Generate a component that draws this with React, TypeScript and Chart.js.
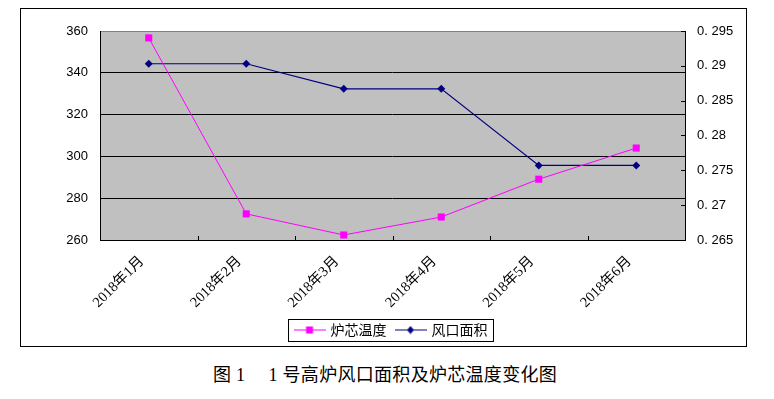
import React, { useEffect, useRef } from "react";
import { Chart, registerables } from "chart.js";

Chart.register(...registerables);

const months = ["2018年1月", "2018年2月", "2018年3月", "2018年4月", "2018年5月", "2018年6月"];
const coreTemp = [356.7, 272.5, 262.4, 271.0, 289.1, 304.0];
const tuyereArea = [0.2903, 0.2903, 0.2867, 0.2867, 0.2757, 0.2757];
const seriesNames = ["炉芯温度", "风口面积"];
const leftAxis = { min: 260, max: 360, step: 20 };
const rightAxis = { min: 0.265, max: 0.295, step: 0.005 };
const caption = "图 1\u3000 1 号高炉风口面积及炉芯温度变化图";

const TEMP_COLOR = "#FF00FF";
const AREA_COLOR = "#000080";
const PLOT_BG = "#C0C0C0";

function fmtRight(v: number): string {
  const s = String(parseFloat(Number(v).toFixed(3)));
  return s.replace("0.", "0. ");
}

function makeSymbol(color: string, kind: "rect" | "diamond"): HTMLCanvasElement {
  const c = document.createElement("canvas");
  c.width = 32;
  c.height = 9;
  const g = c.getContext("2d")!;
  g.strokeStyle = color;
  g.lineWidth = 1;
  g.beginPath();
  g.moveTo(0, 4.5);
  g.lineTo(32, 4.5);
  g.stroke();
  g.fillStyle = color;
  if (kind === "rect") {
    g.fillRect(12.5, 1, 7, 7);
  } else {
    g.beginPath();
    g.moveTo(16, 0.5);
    g.lineTo(19.5, 4.5);
    g.lineTo(16, 8.5);
    g.lineTo(12.5, 4.5);
    g.closePath();
    g.fill();
  }
  return c;
}

const decorPlugin = {
  id: "decor",
  afterLayout(chart: any) {
    const lg = chart.legend;
    if (lg) {
      lg.left += 8;
      lg.right += 8;
    }
  },
  beforeDraw(chart: any) {
    const { ctx, chartArea } = chart;
    const { left, right, top, bottom } = chartArea;
    ctx.save();
    ctx.fillStyle = PLOT_BG;
    ctx.fillRect(left, top, right - left, bottom - top);
    ctx.restore();
  },
  beforeDatasetsDraw(chart: any) {
    const { ctx, chartArea, scales } = chart;
    const { left, right, top, bottom } = chartArea;
    ctx.save();
    ctx.lineWidth = 1;
    ctx.strokeStyle = "#808080";
    ctx.beginPath();
    ctx.moveTo(left, top + 0.5);
    ctx.lineTo(right + 1, top + 0.5);
    ctx.stroke();
    ctx.strokeStyle = "#000000";
    ctx.beginPath();
    ctx.moveTo(left + 0.5, top);
    ctx.lineTo(left + 0.5, bottom + 1);
    ctx.moveTo(left, bottom + 0.5);
    ctx.lineTo(right + 1, bottom + 0.5);
    ctx.moveTo(right + 0.5, top);
    ctx.lineTo(right + 0.5, bottom + 1);
    ctx.stroke();
    const y1 = scales.y1;
    ctx.beginPath();
    y1.ticks.forEach((t: any) => {
      const py = Math.round(y1.getPixelForValue(t.value)) + 0.5;
      ctx.moveTo(right - 4, py);
      ctx.lineTo(right + 0.5, py);
    });
    const n = months.length;
    for (let i = 1; i < n; i++) {
      const px = Math.round(left + (i * (right - left)) / n) + 0.5;
      ctx.moveTo(px, bottom - 4);
      ctx.lineTo(px, bottom + 0.5);
    }
    ctx.stroke();
    ctx.restore();
  },
  afterDraw(chart: any) {
    const lg = chart.legend;
    if (!lg || !lg.legendHitBoxes || !lg.legendHitBoxes.length) return;
    const hb = lg.legendHitBoxes;
    const first = hb[0];
    const last = hb[hb.length - 1];
    const x0 = Math.round(first.left - 8) + 0.5;
    const x1 = Math.round(last.left + last.width + 6) + 0.5;
    const y0 = Math.round(first.top - 4) + 0.5;
    const y1 = Math.round(first.top + first.height + 4) + 0.5;
    const { ctx } = chart;
    ctx.save();
    ctx.strokeStyle = "#000000";
    ctx.lineWidth = 1;
    ctx.strokeRect(x0, y0, x1 - x0, y1 - y0);
    ctx.restore();
  },
};

export default function App() {
  const canvasRef = useRef<HTMLCanvasElement | null>(null);

  useEffect(() => {
    const canvas = canvasRef.current;
    if (!canvas) return;
    const symbols = [makeSymbol(TEMP_COLOR, "rect"), makeSymbol(AREA_COLOR, "diamond")];
    const chart = new Chart(canvas, {
      type: "line",
      data: {
        labels: months,
        datasets: [
          {
            label: seriesNames[0],
            data: coreTemp,
            yAxisID: "y",
            borderColor: TEMP_COLOR,
            backgroundColor: TEMP_COLOR,
            borderWidth: 1,
            pointStyle: "rect",
            pointRadius: 5,
            pointBorderWidth: 0,
            tension: 0,
          },
          {
            label: seriesNames[1],
            data: tuyereArea,
            yAxisID: "y1",
            borderColor: AREA_COLOR,
            backgroundColor: AREA_COLOR,
            borderWidth: 1.2,
            pointStyle: "rectRot",
            pointRadius: 4,
            pointBorderWidth: 0,
            tension: 0,
          },
        ],
      },
      options: {
        responsive: false,
        animation: false,
        events: [],
        layout: { padding: { top: 23, left: 0, right: 0, bottom: 0 } },
        plugins: {
          tooltip: { enabled: false },
          title: { display: false },
          legend: {
            display: true,
            position: "bottom",
            labels: {
              usePointStyle: true,
              pointStyleWidth: 28,
              padding: 10,
              color: "#000000",
              font: { family: "'Noto Sans CJK SC', sans-serif", size: 14 },
              generateLabels: (ch: any) =>
                ch.data.datasets.map((ds: any, i: number) => ({
                  text: ds.label,
                  pointStyle: symbols[i],
                  fillStyle: ds.borderColor,
                  strokeStyle: ds.borderColor,
                  lineWidth: 0,
                  hidden: false,
                  datasetIndex: i,
                  fontColor: "#000000",
                })),
            },
          },
        },
        scales: {
          x: {
            type: "category",
            offset: true,
            grid: { display: false, drawTicks: false },
            border: { display: false },
            ticks: {
              autoSkip: false,
              minRotation: 45,
              maxRotation: 45,
              labelOffset: -7,
              padding: 13,
              color: "#000000",
              font: { family: "'Liberation Serif', 'Noto Sans CJK SC', serif", size: 14.5 },
            },
            afterFit: (s: any) => {
              s.height = 73;
            },
          },
          y: {
            type: "linear",
            position: "left",
            min: leftAxis.min,
            max: leftAxis.max,
            grid: {
              drawTicks: false,
              lineWidth: 1,
              color: (c: any) =>
                c.tick && (c.tick.value === leftAxis.min || c.tick.value === leftAxis.max)
                  ? "rgba(0,0,0,0)"
                  : "#000000",
            },
            border: { display: false },
            ticks: {
              stepSize: leftAxis.step,
              padding: 12,
              color: "#000000",
              font: { family: "'Liberation Sans', Arial, sans-serif", size: 13 },
            },
            afterFit: (s: any) => {
              s.width = 80;
            },
          },
          y1: {
            type: "linear",
            position: "right",
            min: rightAxis.min,
            max: rightAxis.max,
            grid: { display: false, drawOnChartArea: false, drawTicks: false },
            border: { display: false },
            ticks: {
              stepSize: rightAxis.step,
              padding: 12,
              color: "#000000",
              font: { family: "'Liberation Sans', Arial, sans-serif", size: 13 },
              callback: (v: any) => fmtRight(Number(v)),
            },
            afterFit: (s: any) => {
              s.width = 62;
            },
          },
        },
      },
      plugins: [decorPlugin],
    });
    return () => chart.destroy();
  }, []);

  return (
    <div style={{ position: "relative", width: 758, height: 383 }}>
      <div
        style={{
          position: "absolute",
          left: 12,
          top: 0,
          width: 727,
          height: 339,
          boxSizing: "border-box",
          border: "1px solid #000000",
        }}
      />
      <canvas
        ref={canvasRef}
        width={727}
        height={339}
        style={{ position: "absolute", left: 12, top: 0, width: 727, height: 339, display: "block" }}
      />
      <div
        style={{
          position: "absolute",
          left: 0,
          top: 357,
          width: 754,
          textAlign: "center",
          fontFamily: "'Liberation Serif', 'Noto Sans CJK SC', serif",
          fontSize: 18,
          lineHeight: "20px",
          letterSpacing: "0.3px",
          color: "#000000",
          whiteSpace: "pre",
        }}
      >
        {caption}
      </div>
    </div>
  );
}
